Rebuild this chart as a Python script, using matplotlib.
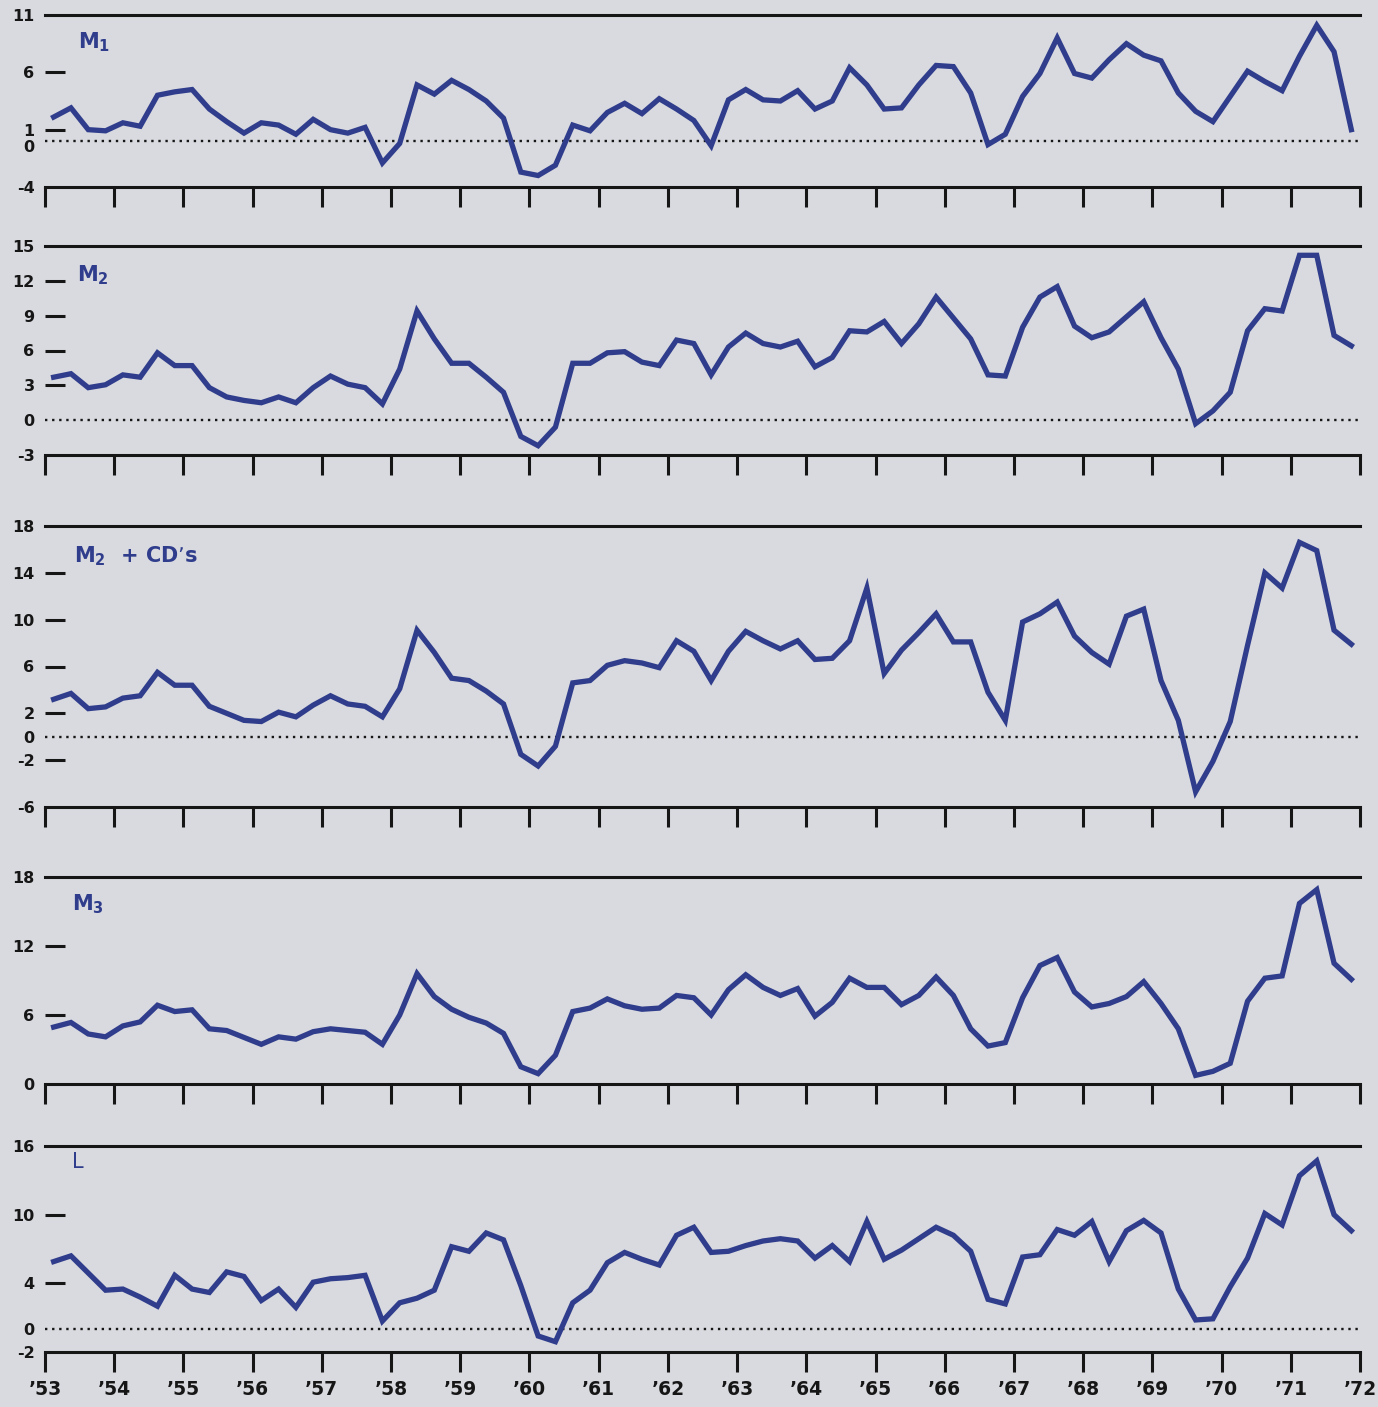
import matplotlib.pyplot as plt

W, H = 1378, 1407
BLUE = '#2f3d8c'
INK = '#161616'
PAPER = '#d9dadf'

years = list(range(1953, 1973))
year_labels = ['\u2019' + str(y)[2:] for y in years]
# quarterly growth rates, plotted at the middle of each quarter
quarters = [1953.125 + 0.25 * k for k in range(76)]

m1 = [2.1, 2.9, 1.0, 0.9, 1.6, 1.3, 4.0, 4.3, 4.5, 2.8,
      1.7, 0.7, 1.6, 1.4, 0.6, 1.9, 1.0, 0.7, 1.2, -1.9,
      -0.2, 4.9, 4.1, 5.3, 4.5, 3.5, 2.0, -2.7, -3.0, -2.1,
      1.4, 0.9, 2.5, 3.3, 2.4, 3.7, 2.8, 1.8, -0.4, 3.6,
      4.5, 3.6, 3.5, 4.4, 2.8, 3.5, 6.4, 4.9, 2.8, 2.9,
      4.9, 6.6, 6.5, 4.2, -0.3, 0.6, 3.9, 5.9, 9.0, 5.9,
      5.5, 7.1, 8.5, 7.5, 7.0, 4.2, 2.6, 1.7, 3.9, 6.1,
      5.2, 4.4, 7.4, 10.1, 7.8, 1.0]

m2 = [3.7, 4.0, 2.8, 3.05, 3.9, 3.7, 5.8, 4.7, 4.7, 2.8,
      2.0, 1.7, 1.5, 2.0, 1.5, 2.8, 3.8, 3.1, 2.8, 1.4,
      4.4, 9.4, 7.0, 4.9, 4.9, 3.7, 2.4, -1.4, -2.2, -0.6,
      4.9, 4.9, 5.8, 5.9, 5.0, 4.7, 6.9, 6.6, 3.9, 6.3,
      7.5, 6.6, 6.3, 6.8, 4.6, 5.4, 7.7, 7.6, 8.5, 6.6,
      8.3, 10.6, 8.8, 7.0, 3.9, 3.8, 8.0, 10.6, 11.5, 8.1,
      7.1, 7.6, 8.9, 10.2, 7.1, 4.4, -0.3, 0.8, 2.4, 7.7,
      9.6, 9.4, 14.2, 14.2, 7.3, 6.4]

m2_cds = [3.2, 3.7, 2.4, 2.55, 3.3, 3.5, 5.5, 4.4, 4.4, 2.6,
          2.0, 1.4, 1.3, 2.1, 1.7, 2.7, 3.5, 2.8, 2.6, 1.7,
          4.1, 9.1, 7.2, 5.0, 4.8, 3.9, 2.8, -1.5, -2.5, -0.8,
          4.6, 4.8, 6.1, 6.5, 6.3, 5.9, 8.2, 7.3, 4.8, 7.3,
          9.0, 8.2, 7.5, 8.2, 6.6, 6.7, 8.2, 12.7, 5.4, 7.4,
          8.9, 10.5, 8.1, 8.1, 3.8, 1.4, 9.8, 10.5, 11.5, 8.6,
          7.2, 6.2, 10.3, 10.9, 4.8, 1.4, -4.7, -2.1, 1.3, 7.8,
          14.0, 12.7, 16.6, 15.9, 9.1, 7.9]

m3 = [4.95, 5.35, 4.35, 4.1, 5.05, 5.4, 6.85, 6.3, 6.45, 4.8,
      4.65, 4.05, 3.45, 4.1, 3.9, 4.55, 4.8, 4.65, 4.5, 3.45,
      6.0, 9.6, 7.6, 6.5, 5.8, 5.3, 4.4, 1.5, 0.9, 2.5,
      6.3, 6.6, 7.4, 6.8, 6.5, 6.6, 7.7, 7.5, 6.0, 8.2,
      9.5, 8.4, 7.7, 8.3, 5.9, 7.1, 9.2, 8.4, 8.4, 6.9,
      7.7, 9.3, 7.7, 4.8, 3.3, 3.6, 7.5, 10.3, 11.0, 8.0,
      6.7, 7.0, 7.6, 8.9, 7.0, 4.8, 0.75, 1.1, 1.8, 7.2,
      9.2, 9.4, 15.7, 16.9, 10.5, 9.1]

liq = [5.9, 6.4, 4.9, 3.4, 3.5, 2.8, 2.0, 4.7, 3.5, 3.2,
       5.0, 4.6, 2.5, 3.5, 1.9, 4.1, 4.4, 4.5, 4.7, 0.7,
       2.3, 2.7, 3.4, 7.2, 6.8, 8.4, 7.8, 3.8, -0.6, -1.1,
       2.3, 3.4, 5.8, 6.7, 6.1, 5.6, 8.2, 8.9, 6.7, 6.8,
       7.3, 7.7, 7.9, 7.7, 6.2, 7.3, 5.9, 9.4, 6.1, 6.9,
       7.9, 8.9, 8.2, 6.8, 2.6, 2.2, 6.3, 6.5, 8.7, 8.2,
       9.4, 5.9, 8.6, 9.5, 8.4, 3.5, 0.8, 0.9, 3.7, 6.2,
       10.1, 9.1, 13.4, 14.7, 10.0, 8.6]

# label, series, y range, y ticks, top px, bottom px, label pos px, label weight
panels = [
    (r'$\mathbf{M_1}$', m1, (-4, 11), [-4, 0, 1, 6, 11], 15, 187, (78, 48), 'bold'),
    (r'$\mathbf{M_2}$', m2, (-3, 15), [-3, 0, 3, 6, 9, 12, 15], 246, 455, (77, 281), 'bold'),
    (r'$\mathbf{M_2}$' + '  + CD\u2019s', m2_cds, (-6, 18), [-6, -2, 0, 2, 6, 10, 14, 18],
     526, 807, (74, 562), 'bold'),
    (r'$\mathbf{M_3}$', m3, (0, 18), [0, 6, 12, 18], 877, 1084, (72, 910), 'bold'),
    ('L', liq, (-2, 16), [-2, 0, 4, 10, 16], 1146, 1352, (72, 1168), 'normal'),
]

fig = plt.figure(figsize=(W / 100, H / 100), dpi=100)
fig.patch.set_facecolor(PAPER)

x0, x1 = 45, 1360
for i, (name, vals, (lo, hi), ticks, top, bot, (lx, ly), wt) in enumerate(panels):
    ax = fig.add_axes([x0 / W, 1 - bot / H, (x1 - x0) / W, (bot - top) / H])
    ax.set_facecolor('none')
    ax.set_xlim(1953, 1972)
    ax.set_ylim(lo, hi)
    for s in ('left', 'right'):
        ax.spines[s].set_visible(False)
    for s in ('top', 'bottom'):
        ax.spines[s].set_linewidth(2.2)
        ax.spines[s].set_color(INK)
    if lo < 0:
        ax.axhline(0, color=INK, lw=1.7, ls=(0, (1, 2)), zorder=1)
    ax.plot(quarters, vals, color=BLUE, lw=3.8, solid_joinstyle='miter',
            clip_on=False, zorder=3)

    ax.set_xticks(years)
    ax.tick_params(axis='x', direction='out', length=14.5, width=2.2,
                   color=INK, top=False)
    if i == len(panels) - 1:
        ax.set_xticklabels(year_labels, fontsize=13.5, fontweight='bold', color=INK)
        ax.tick_params(axis='x', pad=6)
    else:
        ax.set_xticklabels([])

    labels = [str(t) for t in ticks]
    if i == 0:
        labels[ticks.index(0)] = ''   # drawn by hand below, nudged down
    ax.set_yticks(ticks)
    ax.set_yticklabels(labels, fontsize=11.5, fontweight='bold', color=INK)
    ax.tick_params(axis='y', direction='in', length=14.5, width=2.2,
                   pad=7.5, color=INK, right=False)
    for t, tk in zip(ticks, ax.yaxis.get_major_ticks()):
        if t in (lo, hi, 0):
            tk.tick1line.set_visible(False)
    if i == 0:
        ax.annotate('0', xy=(0, 0), xycoords=('axes fraction', 'data'),
                    xytext=(-7.5, -4.5), textcoords='offset points',
                    ha='right', va='center', fontsize=11.5,
                    fontweight='bold', color=INK)

    fig.text(lx / W, 1 - ly / H, name, color=BLUE, fontsize=15,
             fontweight=wt, ha='left', va='baseline')

fig.savefig('out.png', dpi=100, facecolor=PAPER)
